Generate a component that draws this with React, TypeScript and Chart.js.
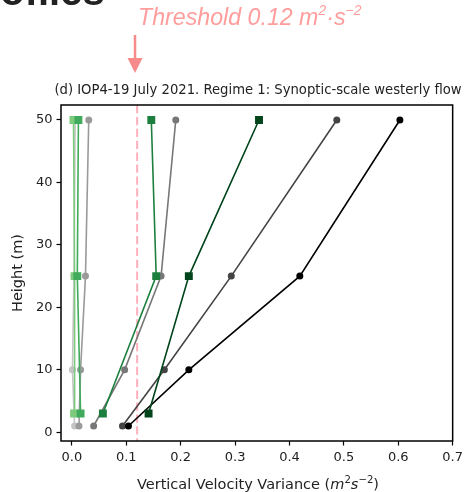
import React, { useEffect, useRef } from 'react';
import { Chart, registerables } from 'chart.js';

Chart.register(...registerables);

// Heights (m)
const circleHeights = [1, 10, 25, 50];
const squareHeights = [3, 25, 50];

// Vertical velocity variance (m^2 s^-2), circle profiles (greys)
const blackVar = [0.104, 0.215, 0.419, 0.603];
const darkGreyVar = [0.093, 0.17, 0.293, 0.487];
const midGreyVar = [0.04, 0.097, 0.164, 0.191];
const lightGreyVar = [0.013, 0.016, 0.025, 0.031];
const paleGreyVar = [0.005, 0.001, 0.004, 0.006];

// Square profiles (greens)
const darkGreenVar = [0.141, 0.215, 0.344];
const midGreenVar = [0.057, 0.155, 0.146];
const lightGreenVar = [0.016, 0.01, 0.012];
const paleGreenVar = [0.004, 0.005, 0.003];

const xTicks = [0, 0.1, 0.2, 0.3, 0.4, 0.5, 0.6, 0.7];
const yTicks = [0, 10, 20, 30, 40, 50];
const threshold = 0.12;

const titleText = '(d) IOP4-19 July 2021. Regime 1: Synoptic-scale westerly flow';

function pts(xs: number[], hs: number[]) {
  return xs.map((x, i) => ({ x, y: hs[i] }));
}

function ds(xs: number[], hs: number[], color: string, square: boolean) {
  return {
    data: pts(xs, hs),
    showLine: true,
    borderColor: color,
    backgroundColor: color,
    borderWidth: 1.6,
    pointStyle: square ? 'rect' : 'circle',
    pointRadius: square ? 5.6 : 3.5,
    pointBorderWidth: 0,
    pointBackgroundColor: color,
    tension: 0,
  };
}

const framePlugin = {
  id: 'frameAndThreshold',
  beforeDatasetsDraw(chart: any) {
    const { ctx, chartArea: a, scales } = chart;
    const x = scales.x.getPixelForValue(threshold);
    ctx.save();
    ctx.strokeStyle = '#ffb0bc';
    ctx.lineWidth = 2;
    ctx.setLineDash([8.3, 3.6]);
    ctx.beginPath();
    ctx.moveTo(x, a.top);
    ctx.lineTo(x, a.bottom);
    ctx.stroke();
    ctx.restore();
  },
  afterDraw(chart: any) {
    const { ctx, chartArea: a } = chart;
    ctx.save();
    ctx.strokeStyle = '#000';
    ctx.lineWidth = 1.5;
    ctx.strokeRect(a.left, a.top, a.right - a.left, a.bottom - a.top);
    ctx.restore();
  },
};

export default function App() {
  const ref = useRef<HTMLCanvasElement | null>(null);

  useEffect(() => {
    if (!ref.current) return;
    const chart = new Chart(ref.current, {
      type: 'scatter',
      data: {
        datasets: [
          ds(darkGreenVar, squareHeights, '#00441b', true),
          ds(midGreenVar, squareHeights, '#1d7f3e', true),
          ds(lightGreenVar, squareHeights, '#41ab5d', true),
          ds(paleGreenVar, squareHeights, '#7ccb7c', true),
          ds(blackVar, circleHeights, '#000000', false),
          ds(darkGreyVar, circleHeights, '#444444', false),
          ds(midGreyVar, circleHeights, '#777777', false),
          ds(lightGreyVar, circleHeights, '#9a9a9a', false),
          ds(paleGreyVar, circleHeights, '#c4c4c4', false),
        ] as any,
      },
      options: {
        animation: false,
        responsive: false,
        maintainAspectRatio: false,
        layout: { padding: { top: 105, right: 12, left: 0, bottom: 0 } },
        plugins: {
          legend: { display: false },
          tooltip: { enabled: false },
          title: { display: false },
        },
        scales: {
          x: {
            type: 'linear',
            min: -0.02,
            max: 0.7,
            afterBuildTicks: (s: any) => {
              s.ticks = xTicks.map((v) => ({ value: v }));
            },
            afterFit: (s: any) => {
              s.height = 51;
            },
            ticks: {
              autoSkip: false,
              maxRotation: 0,
              padding: 4,
              color: '#222',
              font: { family: 'DejaVu Sans', size: 13 },
              callback: (v: any) => Number(v).toFixed(1),
            },
            grid: {
              drawOnChartArea: false,
              drawTicks: true,
              tickLength: 4.5,
              tickWidth: 1.2,
              tickColor: '#000',
              color: '#000',
            },
            border: { display: false },
          },
          y: {
            type: 'linear',
            min: -1.4,
            max: 52.4,
            afterBuildTicks: (s: any) => {
              s.ticks = yTicks.map((v) => ({ value: v }));
            },
            afterFit: (s: any) => {
              s.width = 61;
            },
            ticks: {
              autoSkip: false,
              padding: 4,
              color: '#222',
              font: { family: 'DejaVu Sans', size: 13 },
              callback: (v: any) => String(v),
            },
            grid: {
              drawOnChartArea: false,
              drawTicks: true,
              tickLength: 4.5,
              tickWidth: 1.2,
              tickColor: '#000',
              color: '#000',
            },
            border: { display: false },
            title: {
              display: true,
              text: 'Height (m)',
              color: '#222',
              padding: { top: 10, bottom: 0 },
              font: { family: 'DejaVu Sans', size: 14.5 },
            },
          },
        },
      },
      plugins: [framePlugin],
    } as any);
    return () => chart.destroy();
  }, []);

  const pink = '#ff9c9c';
  return (
    <div style={{ position: 'absolute', left: 0, top: 0, width: 467, height: 492, background: '#fff', overflow: 'hidden' }}>
      <canvas ref={ref} width={467} height={492} style={{ position: 'absolute', left: 0, top: 0, width: 467, height: 492 }} />
      <div style={{ position: 'absolute', left: 0, top: 0, width: 115, height: 9, overflow: 'hidden' }}>
        <span style={{ position: 'absolute', left: -42, top: -29, fontFamily: 'Liberation Sans', fontWeight: 'bold', fontSize: 40, lineHeight: 1, color: '#222', whiteSpace: 'nowrap' }}>
          Profiles
        </span>
      </div>
      <div style={{ position: 'absolute', left: 138, top: 4, fontFamily: 'Liberation Sans', fontStyle: 'italic', fontSize: 23.2, lineHeight: 1, color: pink, whiteSpace: 'nowrap' }}>
        Threshold 0.12 m<span style={{ fontSize: '0.6em', verticalAlign: '0.7em' }}>2</span>·s<span style={{ fontSize: '0.6em', verticalAlign: '0.7em' }}>−2</span>
      </div>
      <svg width={467} height={100} style={{ position: 'absolute', left: 0, top: 0 }}>
        <line x1={135} y1={35} x2={135} y2={60} stroke="#f78a8a" strokeWidth={2.5} />
        <polygon points="127.5,58 142.5,58 135,73" fill="#f78a8a" />
      </svg>
      <div style={{ position: 'absolute', left: 258, top: 83, transform: 'translateX(-50%)', fontFamily: 'DejaVu Sans', fontSize: 13.2, lineHeight: 1, color: '#222', whiteSpace: 'nowrap' }}>
        {titleText}
      </div>
      <div style={{ position: 'absolute', left: 258, top: 475, transform: 'translateX(-50%)', fontFamily: 'DejaVu Sans', fontSize: 14.5, lineHeight: 1, color: '#222', whiteSpace: 'nowrap' }}>
        Vertical Velocity Variance (<i>m</i>
        <span style={{ fontSize: '0.7em', verticalAlign: '0.6em' }}>2</span>
        <i>s</i>
        <span style={{ fontSize: '0.7em', verticalAlign: '0.6em' }}>−2</span>)
      </div>
    </div>
  );
}
